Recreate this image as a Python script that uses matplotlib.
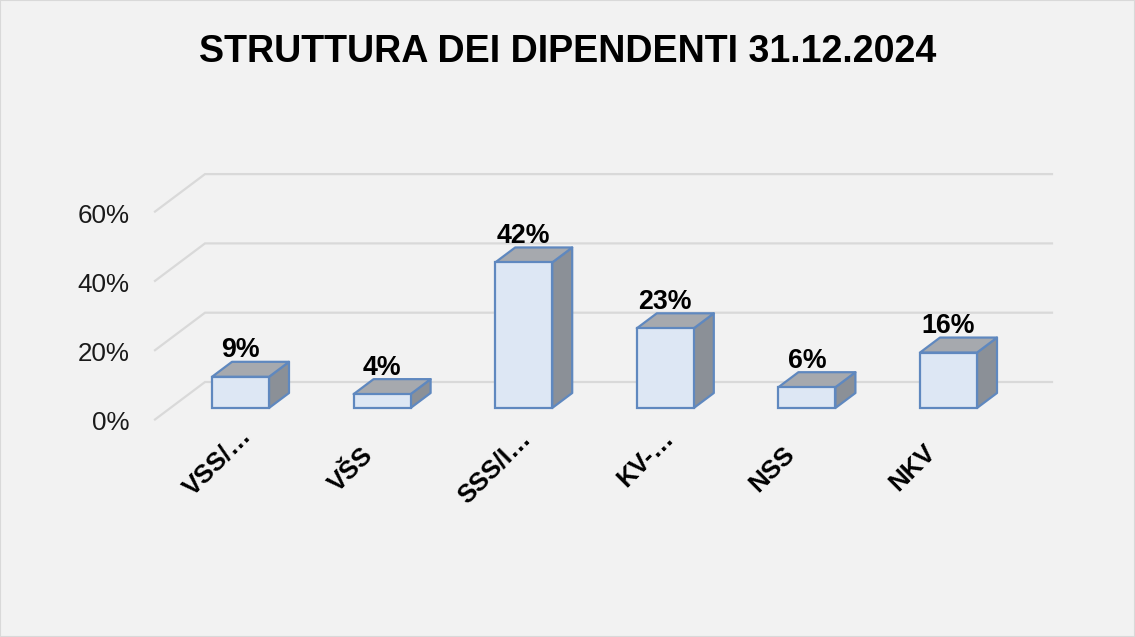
import matplotlib
matplotlib.use("Agg")
import matplotlib.pyplot as plt
from matplotlib.patches import Polygon
from matplotlib.transforms import ScaledTranslation

categories = ["VSS/…", "VŠS", "SSS/I…", "KV-…", "NSS", "NKV"]
values = [9, 4, 42, 23, 6, 16]
labels = ["9%", "4%", "42%", "23%", "6%", "16%"]
y_ticks = [0, 20, 40, 60]
y_tick_labels = ["0%", "20%", "40%", "60%"]
title = "STRUTTURA DEI DIPENDENTI 31.12.2024"

W, H = 1135, 637
plt.rcParams["font.family"] = ["Liberation Sans", "DejaVu Sans"]
BG = "#f2f2f2"
fig = plt.figure(figsize=(W / 100, H / 100), dpi=100, facecolor=BG)

# wall rectangle in pixels
left, right, y0, y60 = 155, 1052, 419.5, 211.6
ax = fig.add_axes([left / W, 1 - y0 / H, (right - left) / W, (y0 - y60) / H])
ax.patch.set_alpha(0)
for s in ax.spines.values():
    s.set_visible(False)

STEP = 141.6
px_x = 1 / STEP
px_y = 60 / (y0 - y60)
ax.set_xlim((left - 240.5) * px_x, (right - 240.5) * px_x)
ax.set_ylim(0, 60)

# gridlines on side wall and back wall
wall_dx = 50 * px_x
wall_dy = 37.5 * px_y
x0, x1 = ax.get_xlim()
for v in y_ticks:
    ax.plot([x0, x0 + wall_dx, x1], [v, v + wall_dy, v + wall_dy],
            color="#d9d9d9", lw=1.6, clip_on=False, zorder=1, solid_joinstyle="miter")

# boxes
base = 11.5 * px_y
bw = 57 * px_x
ddx, ddy = 20 * px_x, 15 * px_y
EDGE = "#5f88bf"
for i, (v, lab) in enumerate(zip(values, labels)):
    l, r, b, t = i - bw / 2, i + bw / 2, base, base + v
    ax.add_patch(Polygon([(r, b), (r + ddx, b + ddy), (r + ddx, t + ddy), (r, t)],
                         fc="#8b9097", ec=EDGE, lw=1.6, joinstyle="round", zorder=3, clip_on=False))
    ax.add_patch(Polygon([(l, t), (r, t), (r + ddx, t + ddy), (l + ddx, t + ddy)],
                         fc="#a6a9ae", ec=EDGE, lw=1.6, joinstyle="round", zorder=3, clip_on=False))
    ax.bar(i, v, width=bw, bottom=base, color="#dde7f4", edgecolor=EDGE, linewidth=1.6, zorder=4)
    ax.annotate(lab, (i, t), xytext=(0, 26.5 * 0.72), textcoords="offset points",
                ha="center", va="center", fontsize=19.3, fontweight="bold",
                color="black", zorder=5, annotation_clip=False)


def shift(dx_px, dy_px):
    """Pixel nudge (y measured downward) for a tick label."""
    return ScaledTranslation(dx_px / 100, -dy_px / 100, fig.dpi_scale_trans)


ax.set_yticks(y_ticks, y_tick_labels)
ax.tick_params(axis="y", length=0, pad=18.5, labelsize=18.7, labelcolor="#1a1a1a")
for t in ax.get_yticklabels():
    t.set_transform(t.get_transform() + shift(0, 1.5))

ax.set_xticks(range(len(categories)), categories)
ax.tick_params(axis="x", length=0, pad=12, labelsize=18.5)
label_nudges = [(-2, -13), (-21, 7), (-5, -10), (-4, -10), (-24.5, 6), (-25, 4)]
for t, (dx, dy) in zip(ax.get_xticklabels(), label_nudges):
    t.set_rotation(45)
    t.set_rotation_mode("anchor")
    t.set_ha("right")
    t.set_va("top")
    t.set_fontweight("bold")
    t.set_color("black")
    t.set_transform(t.get_transform() + shift(dx, dy))

fig.text(567.5 / W, 1 - 51.5 / H, title, ha="center", va="center",
         fontsize=27.1, fontweight="bold", color="black")
fig.add_artist(plt.Rectangle((0, 0), 1, 1, transform=fig.transFigure, fill=False,
                             ec="#d9d9d9", lw=1.5))
fig.savefig("out.png", dpi=100, facecolor=BG)
